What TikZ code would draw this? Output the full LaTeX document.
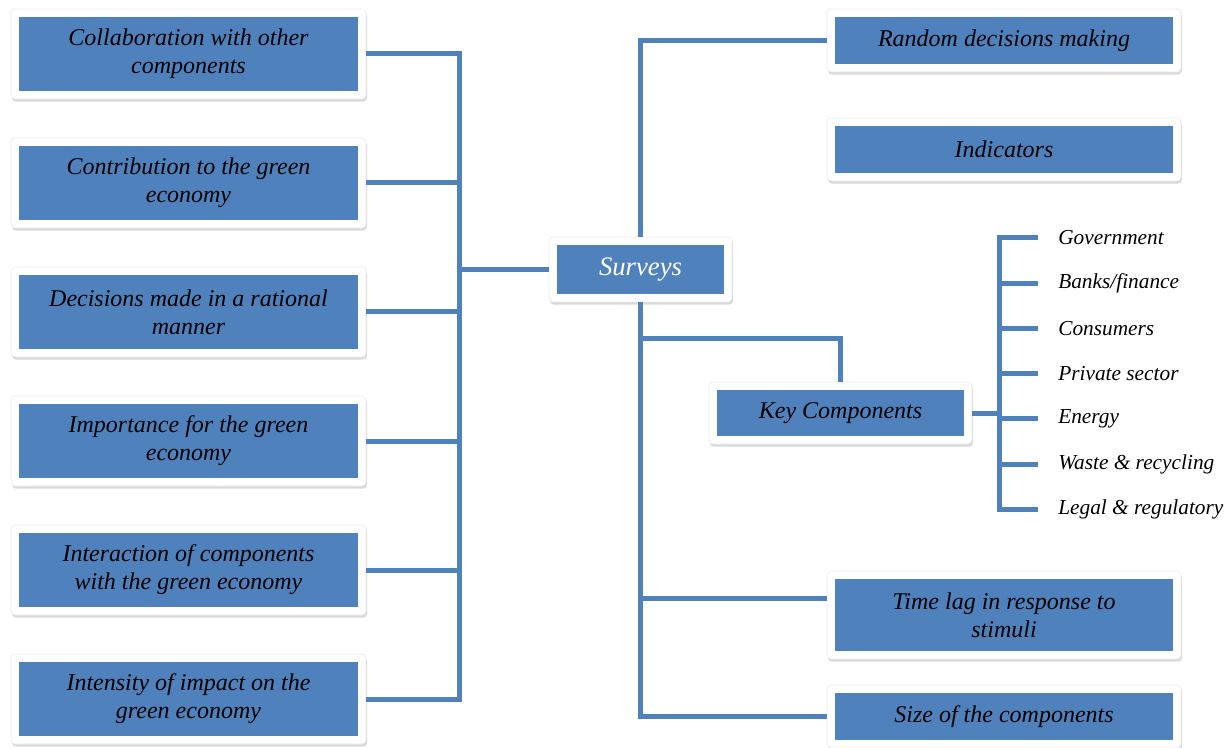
\documentclass[tikz,border=0pt]{standalone}
\usepackage{fontspec}
\setmainfont{Liberation Serif}
\usepackage{tikz}
\usetikzlibrary{positioning,shadows}

\definecolor{boxblue}{HTML}{4F81BD}

\begin{document}
\begin{tikzpicture}[
    x=0.75pt, y=-0.75pt,
    node distance=29.25pt,
    box_style/.style={fill=white, draw=black!8, line width=0.5pt, rounded corners=3pt, outer sep=0pt, inner sep=0pt, align=center,
        font=\fontsize{18}{21}\selectfont\itshape, text=black,
        minimum width=265.5pt, minimum height=47.25pt,
        drop shadow={shadow xshift=0.75pt, shadow yshift=-2pt, opacity=0.25, fill=black!60},
        path picture={\fill[boxblue, sharp corners] ([shift={(6pt,-6pt)}]path picture bounding box.north west) rectangle ([shift={(-6pt,6pt)}]path picture bounding box.south east);}},
    left_style/.style={box_style, minimum width=266.25pt, minimum height=67.5pt},
    hub_style/.style={box_style, minimum width=137.25pt, minimum height=48.75pt, text=white, font=\fontsize{20}{24}\selectfont\itshape},
    link_style/.style={draw=boxblue, line width=3.75pt},
    item_style/.style={anchor=west, inner sep=0pt, font=\fontsize{16}{19}\selectfont\itshape}
]
\useasboundingbox (0,0) rectangle (1231,748);

% Hub
\node[hub_style] (S) at (640.5,269.5) {Surveys};

% Left column
\node[left_style] (L1) at (188.5,54) {Collaboration with other\\components};
\node[left_style, below=of L1] (L2) {Contribution to the green\\economy};
\node[left_style, below=of L2] (L3) {Decisions made in a rational\\manner};
\node[left_style, below=of L3] (L4) {Importance for the green\\economy};
\node[left_style, below=of L4] (L5) {Interaction of components\\with the green economy};
\node[left_style, below=of L5] (L6) {Intensity of impact on the\\green economy};

% Right column
\node[box_style] (R1) at (1004,40.5) {Random decisions making};
\node[box_style, below=34.5pt of R1] (R2) {Indicators};
\node[box_style, minimum width=197.25pt, minimum height=46.5pt] (K) at (840.5,413) {Key Components};
\node[box_style, minimum height=66pt] (T) at (1004,615) {Time lag in response to\\stimuli};
\node[box_style, below=19.5pt of T] (Z) {Size of the components};

% Key components list
\foreach \name [count=\i] in {Government, Banks/finance, Consumers, Private sector, Energy, Waste \& recycling, Legal \& regulatory}
    \node[item_style] (C\i) at (1058, {192.8+45.2*\i}) {\name};

\coordinate (Lbus) at (459,0);
\coordinate (Kbus) at (999,0);

% Edges on the left
\draw[link_style] (L1.east) -- (L1.east -| Lbus) -- (L6.east -| Lbus) -- (L6.east);
\foreach \i in {2,...,5}
    \draw[link_style] (L\i.east) -- (L\i.east -| Lbus);
\draw[link_style] (S.west) -- (S.west -| Lbus);

% Edges on the right
\draw[link_style] (S.north) |- (R1.west);
\draw[link_style] (S.south) |- (Z.west);
\draw[link_style] ([yshift=-27.75pt]S.south) -| (K.north);
\draw[link_style] ([yshift=12.75pt]T.west) -- ([yshift=12.75pt]T.west -| S.south);

% Edges to the list
\draw[link_style] (K.east) -- (K.east -| Kbus);
\draw[link_style] ([xshift=-15pt]C1.west) -- (C1.west -| Kbus) -- (C7.west -| Kbus) -- ([xshift=-15pt]C7.west);
\foreach \i in {2,...,6}
    \draw[link_style] (C\i.west -| Kbus) -- ([xshift=-15pt]C\i.west);

\end{tikzpicture}
\end{document}
